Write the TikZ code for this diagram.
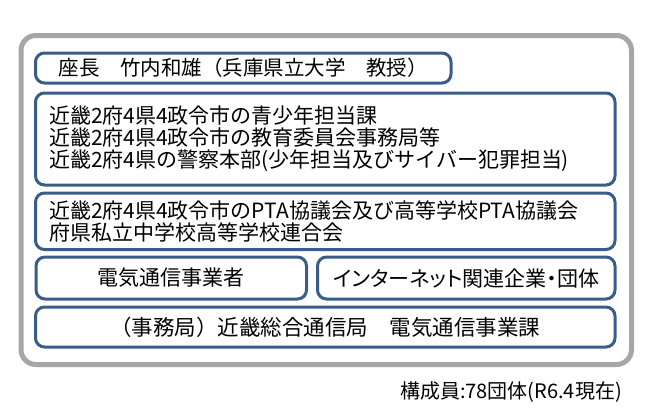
\documentclass[tikz,border=0pt]{standalone}
\usepackage{fontspec}
\setmainfont{Noto Sans CJK JP}
\newfontfamily\kanafont[RawFeature=+palt]{Noto Sans CJK JP}
\usepackage{tikz}
\definecolor{boxline}{HTML}{385D8A}
\definecolor{frameline}{HTML}{A6A6A6}

\begin{document}
\begin{tikzpicture}[x=1pt,y=-1pt]
	\tikzstyle{panel}=[draw=boxline,line width=3pt,rounded corners=9pt,fill=white,inner sep=0pt,font=\fontsize{21}{22}\selectfont]
	\tikzstyle{outer}=[draw=frameline,line width=5pt,rounded corners=15pt,inner sep=0pt]
	\useasboundingbox (0,0) rectangle (656,418);
	\node[outer,minimum width=610.5,minimum height=329](frame) at (326.25,200) {};
	\node[panel,minimum width=415.5,minimum height=30,font=\fontsize{20.5}{22}\selectfont](chair) at (243.25,68) {座長　竹内和雄（兵庫県立大学　教授）};
	\node[panel,minimum width=579.5,minimum height=92,text width=552.5,align=left](youth) at (325.25,139) {近畿2府4県4政令市の青少年担当課\\近畿2府4県4政令市の教育委員会事務局等\\近畿2府4県の警察本部(少年担当及びサイバー犯罪担当)};
	\node[panel,minimum width=579.5,minimum height=56.5,text width=552.5,align=left](pta) at (325.25,221.25) {近畿2府4県4政令市のPTA協議会及び高等学校PTA協議会\\府県私立中学校高等学校連合会};
	\node[panel,minimum width=270.5,minimum height=42](telecom) at (171.25,278) {電気通信事業者};
	\node[panel,minimum width=297.5,minimum height=42](internet) at (466.25,278) {\kanafont インターネット関連企業・団体};
	\node[panel,minimum width=579.5,minimum height=40,font=\fontsize{21.5}{24}\selectfont](office) at (325.25,327) {（事務局）近畿総合通信局　電気通信事業課};
	\node[anchor=east,inner sep=0pt,font=\fontsize{20}{22}\selectfont](members) at (622,392) {構成員:78団体(R6.4現在)};
\end{tikzpicture}
\end{document}
